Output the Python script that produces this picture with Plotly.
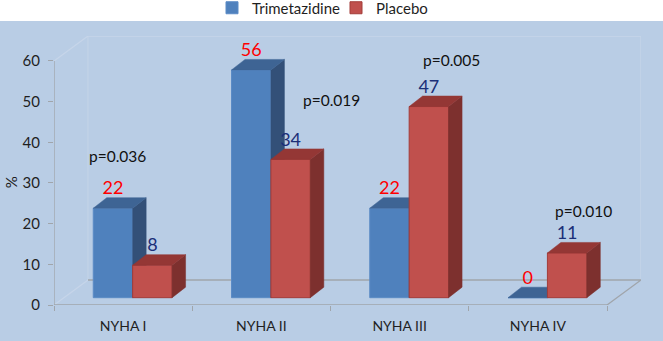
import plotly.graph_objects as go

categories = ["NYHA I", "NYHA II", "NYHA III", "NYHA IV"]
trimetazidine = [22, 56, 22, 0]
placebo = [8, 34, 47, 11]
p_labels = ["p=0.036", "p=0.019", "p=0.005", "p=0.010"]
p_x = [-0.04, 1.51, 2.375, 3.33]
p_y = [36.7, 50.5, 60.3, 23.1]
y_ticks = [0, 10, 20, 30, 40, 50, 60]

FONT = "Lato, 'Open Sans', sans-serif"
W, H = 663, 341
ML, MR, MT, MB = 54, 22, 36, 36
PW, PH = W - ML - MR, H - MT - MB
XR = [-0.5, -0.5 + PW / 138.25]
YR = [0, PH / 4.067]
DX_W, DY_W = 34 / 138.25, 25 / 4.067
DX_B, DY_B = 13.5 / 138.25, 10.5 / 4.067
BAR_W = 0.285
BASE = 1.8
x_idx = list(range(len(categories)))
blue_x = [i - 0.0735 for i in x_idx]
red_x = [i + 0.2115 for i in x_idx]


def faces(xs, vals):
    side_x, side_y, top_x, top_y = [], [], [], []
    for x, v in zip(xs, vals):
        l, r, t = x - BAR_W / 2, x + BAR_W / 2, BASE + v
        side_x += [r, r + DX_B, r + DX_B, r, r, None]
        side_y += [BASE, BASE + DY_B, t + DY_B, t, BASE, None]
        top_x += [l, r, r + DX_B, l + DX_B, l, None]
        top_y += [t, t, t + DY_B, t + DY_B, t, None]
    return side_x, side_y, top_x, top_y


def poly(xs, ys, color, xa, ya):
    return go.Scatter(x=xs, y=ys, mode="lines", fill="toself", fillcolor=color,
                      line=dict(width=0.5, color=color), hoverinfo="skip",
                      showlegend=False, xaxis=xa, yaxis=ya)


def line(xs, ys, color, width=1.3):
    return go.Scatter(x=xs, y=ys, mode="lines", line=dict(color=color, width=width),
                      hoverinfo="skip", showlegend=False, cliponaxis=False)


fig = go.Figure()
x0, x1 = -0.5, 3.5
wall = "#C6D5E9"
axis = "#A0A5AB"
fig.add_trace(line([x0, x0 + DX_W, x1 + DX_W, x1 + DX_W], [60, YR[1], YR[1], DY_W], wall))
fig.add_trace(line([x0 + DX_W, x0 + DX_W], [DY_W, YR[1]], wall, 0.8))
fig.add_trace(line([x0, x0 + DX_W], [0, DY_W], wall))
fig.add_trace(line([x0 + DX_W, x1 + DX_W, x1], [DY_W, DY_W, 0], axis))
fig.add_trace(line([x0, x0, x1], [60, 0, 0], axis))

fig.add_trace(go.Bar(x=blue_x, y=trimetazidine, base=BASE, width=BAR_W, name="Trimetazidine",
                     marker=dict(color="#4F81BD", line=dict(color="#5B8BC6", width=1)),
                     legend="legend", xaxis="x2", yaxis="y2", hoverinfo="skip"))
s = faces(blue_x, trimetazidine)
fig.add_trace(poly(s[0], s[1], "#335078", "x2", "y2"))
fig.add_trace(poly(s[2], s[3], "#3E6494", "x2", "y2"))

fig.add_trace(go.Bar(x=red_x, y=placebo, base=BASE, width=BAR_W, name="Placebo",
                     marker=dict(color="#C0504D", line=dict(color="#A33C39", width=1)),
                     legend="legend2", xaxis="x3", yaxis="y3", hoverinfo="skip"))
s = faces(red_x, placebo)
fig.add_trace(poly(s[0], s[1], "#7D302E", "x3", "y3"))
fig.add_trace(poly(s[2], s[3], "#943735", "x3", "y3"))

fig.add_trace(go.Scatter(x=blue_x, y=[v + BASE + DY_B - 0.3 for v in trimetazidine], mode="text",
                         text=[str(v) for v in trimetazidine], textposition="top center",
                         textfont=dict(family=FONT, size=18, color="#FF0000"), hoverinfo="skip",
                         showlegend=False, xaxis="x3", yaxis="y3", cliponaxis=False))
fig.add_trace(go.Scatter(x=red_x, y=[v + BASE + DY_B - 0.3 for v in placebo], mode="text",
                         text=[str(v) for v in placebo], textposition="top center",
                         textfont=dict(family=FONT, size=18, color="#1B2F78"), hoverinfo="skip",
                         showlegend=False, xaxis="x3", yaxis="y3", cliponaxis=False))

for t, x, y in zip(p_labels, p_x, p_y):
    fig.add_annotation(text=t, x=x, y=y, xref="x3", yref="y3", showarrow=False,
                       font=dict(family=FONT, size=15.5, color="#111111"))
fig.add_annotation(text="%", xref="paper", yref="y", x=-43 / PW, y=30.2, textangle=-90,
                   xanchor="center", showarrow=False,
                   font=dict(family=FONT, size=15, color="#1f1f1f"))

fig.add_shape(type="rect", xref="paper", yref="paper", layer="below",
              x0=-ML / PW, x1=(PW + MR) / PW, y0=-MB / PH, y1=1 + 15 / PH,
              fillcolor="#B9CDE5", line_width=0)

overlay = dict(range=XR, visible=False, fixedrange=True)
fig.update_layout(
    width=W, height=H, margin=dict(l=ML, r=MR, t=MT, b=MB, autoexpand=False), autosize=False,
    paper_bgcolor="white", plot_bgcolor="rgba(0,0,0,0)", barmode="overlay",
    font=dict(family=FONT, color="#1f1f1f"),
    legend=dict(x=(212 - ML) / PW, y=(305 - 8) / PH, xanchor="left", yanchor="middle",
                font=dict(size=15, family=FONT, color="#1f1f1f"), bgcolor="rgba(0,0,0,0)",
                borderwidth=0),
    legend2=dict(x=(336 - ML) / PW, y=(305 - 8) / PH, xanchor="left", yanchor="middle",
                 font=dict(size=15, family=FONT, color="#1f1f1f"), bgcolor="rgba(0,0,0,0)",
                 borderwidth=0),
    xaxis=dict(range=XR, tickmode="array", tickvals=x_idx, ticktext=categories, ticklen=0,
               showgrid=False, zeroline=False, showline=False, ticklabelstandoff=11,
               tickfont=dict(size=14, family=FONT, color="#1f1f1f"),
               minor=dict(tickmode="array", tickvals=[-0.5, 0.5, 1.5, 2.5, 3.5], ticks="outside",
                          ticklen=5, tickcolor=axis, tickwidth=1.3, showgrid=False)),
    yaxis=dict(range=YR, tickmode="array", tickvals=y_ticks, ticks="outside", ticklen=5,
               tickcolor=axis, tickwidth=1.3, showgrid=False, zeroline=False, showline=False,
               ticklabelstandoff=5, tickfont=dict(size=15, family=FONT, color="#1f1f1f")),
    xaxis2=dict(overlay, overlaying="x"),
    yaxis2=dict(overlay, range=YR, overlaying="y"),
    xaxis3=dict(overlay, overlaying="x"),
    yaxis3=dict(overlay, range=YR, overlaying="y"),
)
fig.write_html("out.html", config=dict(displayModeBar=False),
               post_script="document.body.style.margin='0';document.documentElement.style.overflow='hidden';")
